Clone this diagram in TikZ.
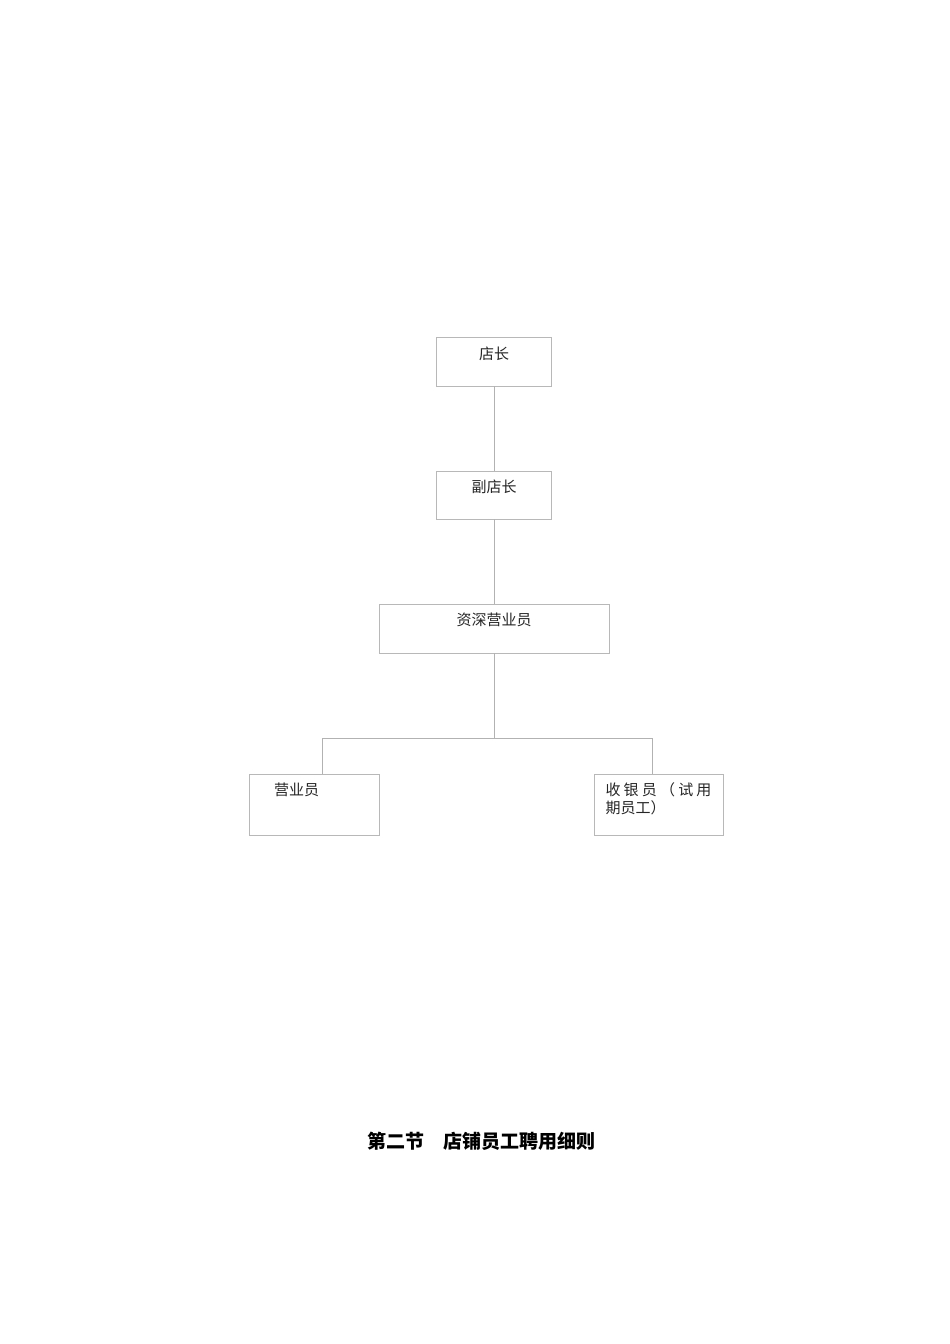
\documentclass[tikz,border=0pt]{standalone}
\usepackage{fontspec}
\setmainfont{Noto Sans CJK SC}
\newfontfamily\cjk{Noto Sans CJK SC}
\usetikzlibrary{positioning}

\tikzset{
  post/.style={draw=black!28,line width=0.8pt,rectangle,inner sep=0pt},
  link/.style={draw=black!30,line width=0.8pt},
  lbl/.style={font=\cjk\fontsize{15pt}{18pt}\selectfont,inner sep=0pt,text=black!85}
}

\begin{document}
\begin{tikzpicture}[x=1pt,y=-1pt]
\useasboundingbox[fill=white] (0,0) rectangle (950,1344);

% boxes
\node[post,minimum width=115pt,minimum height=49pt,label={[lbl,yshift=7.5pt]center:店长}] (dz) at (494,361.5) {};
\node[post,minimum width=115pt,minimum height=48pt,label={[lbl,yshift=8pt]center:副店长}] (fdz) at (494,495) {};
\node[post,minimum width=230pt,minimum height=49pt,label={[lbl,yshift=8.5pt]center:资深营业员}] (zs) at (494,628.5) {};
\node[post,minimum width=130pt,minimum height=61pt,label={[lbl,yshift=15pt,xshift=-17.5pt]center:营业员}] (yy) at (314,805) {};
\node[post,minimum width=129pt,minimum height=61pt,label={[lbl,yshift=6pt,align=left]center:\makebox[106pt][l]{收\hfill 银\hfill 员\hfill （\hfill 试\hfill 用}\\期员工）}] (sy) at (658.5,805) {};

% lines
\coordinate (jl) at (322,738);
\coordinate (jr) at (652,738);
\draw[link] (dz) -- (fdz);
\draw[link] (fdz) -- (zs);
\draw[link] (zs) -- (zs |- jl);
\draw[link] (yy.north -| jl) -- (jl) -- (jr) -- (sy.north -| jr);

% title
\node[font=\cjk\bfseries\fontsize{19pt}{21pt}\selectfont,inner sep=0pt] (title) at (481.5,1141) {第二节\hspace{19pt}店铺员工聘用细则};
\end{tikzpicture}
\end{document}
